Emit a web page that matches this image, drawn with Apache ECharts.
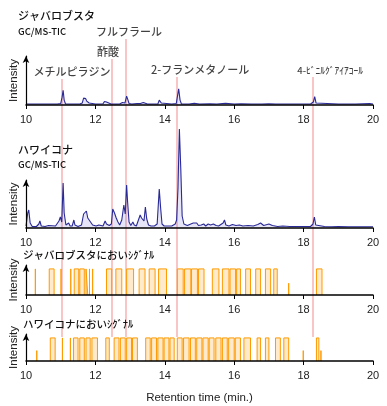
<!DOCTYPE html>
<html><head><meta charset="utf-8">
<script src="https://cdn.jsdelivr.net/npm/echarts@6/dist/echarts.min.js"></script>
<style>html,body{margin:0;padding:0;background:#fff}#c{width:387px;height:406px}</style>
</head><body><div id="c"></div>
<script>
// ---- data ----
const xTicks = [10, 12, 14, 16, 18, 20];
// GC/MS-TIC chromatogram, Java Lobusta: [retention time (min), intensity]
const javaTIC = [[10.0,1],[10.05,1.5],[10.1,1],[10.3,1],[10.35,1.8],[10.4,1],[10.6,1],[10.65,1.6],[10.7,1],[10.9,1],[11.0,1.5],[11.04,8],[11.07,15],[11.1,5],[11.14,1],[11.3,1],[11.35,1.5],[11.4,1],[11.55,1],[11.62,2],[11.66,7],[11.69,5],[11.72,6.5],[11.75,4],[11.78,5],[11.82,2],[11.86,1],[12.0,1],[12.05,1.5],[12.1,1],[12.22,1.2],[12.26,3.5],[12.29,2],[12.32,3],[12.35,1],[12.45,1],[12.5,2],[12.55,1],[12.7,1],[12.78,2.5],[12.82,4],[12.85,2],[12.9,9],[12.93,6],[12.97,1.5],[13.05,1],[13.2,1.5],[13.25,2],[13.3,1.5],[13.38,2.5],[13.42,1.5],[13.5,1],[13.6,1],[13.8,1],[13.84,5],[13.87,7],[13.9,2],[13.95,1],[14.2,1],[14.33,1.5],[14.37,10],[14.4,16.5],[14.44,5],[14.48,1],[14.7,1],[14.85,1.8],[14.9,1.2],[15.0,1],[15.3,1.2],[15.5,1],[15.75,1.8],[15.8,1],[16.0,1],[16.2,1.2],[16.5,1],[16.8,1],[17.0,1.3],[17.2,1],[17.5,1],[18.0,1],[18.2,1],[18.28,3],[18.32,8.5],[18.36,2],[18.4,1],[19.0,1],[19.5,1],[19.9,1.5],[20.0,1]];
// GC/MS-TIC chromatogram, Hawaii Kona
const konaTIC = [[10.0,2],[10.05,15],[10.08,18],[10.12,5],[10.18,1.5],[10.3,1.5],[10.37,4],[10.4,7],[10.44,2],[10.55,1.5],[10.65,2.5],[10.7,1.5],[10.85,2],[10.95,7],[10.99,11],[11.03,6],[11.07,45],[11.1,15],[11.15,3],[11.23,5],[11.27,2],[11.33,2],[11.38,8],[11.41,3],[11.5,1.5],[11.6,3],[11.66,14],[11.7,12],[11.74,17],[11.78,10],[11.82,12],[11.86,6],[11.92,3],[11.97,4],[12.02,2],[12.1,3],[12.15,1.5],[12.22,2],[12.28,7],[12.32,4],[12.36,6],[12.4,2.5],[12.46,4],[12.5,19],[12.55,15],[12.6,10],[12.65,6],[12.7,3],[12.76,8],[12.82,23],[12.86,14],[12.9,43],[12.93,25],[12.97,6],[13.02,2.5],[13.08,6],[13.12,3],[13.18,2],[13.25,9],[13.29,13],[13.33,10],[13.36,11],[13.4,7],[13.44,21],[13.48,9],[13.53,3],[13.6,2],[13.7,2],[13.78,4],[13.84,39],[13.88,20],[13.92,4],[13.98,2],[14.1,2],[14.2,2],[14.3,4],[14.34,8],[14.38,40],[14.42,99],[14.46,60],[14.5,12],[14.55,4],[14.65,2.5],[14.75,4],[14.82,5],[14.87,3],[14.92,5],[14.97,2.5],[15.05,3],[15.12,4],[15.18,2],[15.25,4],[15.32,3],[15.4,4],[15.48,2.5],[15.55,2],[15.68,5],[15.72,8],[15.76,3],[15.85,2],[15.95,3.5],[16.0,5],[16.05,2.5],[16.15,3],[16.25,2],[16.4,2.5],[16.55,2],[16.68,3.5],[16.76,5],[16.85,2.5],[17.0,4],[17.05,5],[17.1,2.5],[17.25,1.5],[17.4,2],[17.6,1.5],[17.8,1.5],[18.0,1.5],[18.2,1.5],[18.27,4],[18.31,11],[18.35,3],[18.4,1.5],[18.6,1.5],[18.8,1.2],[19.0,1.5],[19.3,1.2],[19.6,1.2],[20.0,1.2]];
// Odour signal intervals: [start, end, level]
const javaOdour = [[10.27,10.27,1],[10.67,10.81,1],[11.01,11.01,1],[11.29,11.29,1],[11.39,11.52,1],[11.55,11.68,1],[11.73,11.78,1],[11.83,11.83,1],[11.92,11.92,1],[12.32,12.47,1],[12.59,12.76,1],[12.9,13.1,1],[13.26,13.43,1],[13.55,13.72,1],[13.82,14.05,1],[14.36,14.53,1],[14.57,14.75,1],[14.77,14.94,1],[14.97,15.13,1],[15.37,15.56,1],[15.66,15.85,1],[15.88,16.04,1],[16.07,16.18,1],[16.33,16.47,1],[16.62,16.76,1],[16.9,17.05,1],[17.14,17.24,1],[17.57,17.57,0.45],[18.37,18.53,1]];
const konaOdour = [[10.31,10.31,0.45],[10.7,10.84,1],[11.05,11.05,1],[11.28,11.28,1],[11.37,11.5,1],[11.55,11.68,1],[11.73,11.85,1],[11.9,12.06,1],[12.3,12.4,1],[12.54,12.68,1],[12.72,12.86,1],[12.9,13.04,1],[13.07,13.21,1],[13.45,13.58,1],[13.62,13.76,1],[13.8,13.95,1],[13.98,14.12,1],[14.15,14.27,1],[14.36,14.5,1],[14.54,14.7,1],[14.74,14.88,1],[14.92,15.07,1],[15.1,15.25,1],[15.28,15.42,1],[15.47,15.62,1],[15.66,15.8,1],[15.84,16.0,1],[16.03,16.18,1],[16.28,16.47,1],[16.66,16.76,1],[16.9,17.0,1],[17.19,17.33,1],[17.43,17.57,1],[17.99,17.99,0.45],[18.37,18.44,1],[18.5,18.5,0.45]];
// Identified compounds and their retention times
const compounds = ['メチルピラジン', '酢酸', 'フルフラール', '2-フランメタノール', '4-ﾋﾞﾆﾙｸﾞｱｲｱｺｰﾙ'];
const compoundRT = [11.06, 12.5, 12.9, 14.37, 18.28];

// ---- layout / style (not data) ----
const labelPos = [{y:72,dx:10,fs:11},{y:52,dx:-4,fs:11},{y:32,dx:3,fs:11},{y:70,dx:23,fs:11},{y:70,dx:17,fs:9.5}];
const lineBottom = 337;
const JP = '"Noto Sans CJK JP", sans-serif';
const LAT = '"Liberation Sans", Arial, sans-serif';
const JPW = 500;

function steps(iv){
  const out=[];
  iv.forEach(([a,b,h])=>{ out.push([a,0],[a,h],[b,h],[b,0],[b,'-']); });
  return out;
}

const grids = [
  {left:25,right:14,top:56,height:49},
  {left:25,right:14,top:180,height:48},
  {left:25,right:14,top:265,height:30},
  {left:25,right:14,top:334,height:27},
  {left:25,right:14,top:0,height:406}
];
const yMax = [50, 48, 1.15, 1.17];

const xAxes = grids.map((g,i)=>({
  gridIndex:i, type:'value', min:xTicks[0], max:xTicks[xTicks.length-1], interval:xTicks[1]-xTicks[0],
  show: i<4, z:5,
  axisLine:{lineStyle:{color:'#000',width:1.5}},
  axisTick:{show:true,length:4,lineStyle:{color:'#000',width:1}},
  axisLabel:{color:'#222',fontSize:11,fontFamily:LAT,margin:9},
  splitLine:{show:false},
  name: i===3 ? 'Retention time (min.)' : '',
  nameLocation:'middle', nameGap:31,
  nameTextStyle:{color:'#222',fontSize:11.5,fontFamily:LAT}
}));
const yAxes = grids.map((g,i)=> i<4 ? ({
  gridIndex:i, type:'value', min:0, max:yMax[i], z:5,
  axisLine:{show:true,lineStyle:{color:'#000',width:1.2},symbol:['none','arrow'],symbolSize:[5,7]},
  axisTick:{show:false}, axisLabel:{show:false}, splitLine:{show:false},
  name:'Intensity', nameLocation:'middle', nameGap:6,
  nameTextStyle:{color:'#222',fontSize:11.5,fontFamily:LAT}
}) : ({gridIndex:4,type:'value',min:0,max:406,inverse:true,show:false}));

const ticColor = '#2a2a96';
const series = [
  {type:'lines', coordinateSystem:'cartesian2d', xAxisIndex:4, yAxisIndex:4, z:1, silent:true,
   lineStyle:{color:'#f6b3b3',width:1.5,opacity:1},
   data: compoundRT.map((rt,i)=>({coords:[[rt,labelPos[i].y+7],[rt,lineBottom]]}))},
  {type:'scatter', xAxisIndex:4, yAxisIndex:4, symbolSize:0, z:6, silent:true,
   data: compoundRT.map((rt,i)=>({name:compounds[i], value:[rt,labelPos[i].y],
     label:{show:true,position:'inside',offset:[labelPos[i].dx,0],formatter:'{b}',color:'#111',fontSize:labelPos[i].fs,fontFamily:JP,fontWeight:JPW}}))},
  {type:'line', xAxisIndex:0, yAxisIndex:0, data:javaTIC, symbol:'none', clip:false, z:3,
   lineStyle:{color:ticColor,width:1.1}, areaStyle:{color:'rgba(110,110,210,0.25)'}},
  {type:'line', xAxisIndex:1, yAxisIndex:1, data:konaTIC, symbol:'none', clip:false, z:3,
   lineStyle:{color:ticColor,width:1.1}, areaStyle:{color:'rgba(110,110,210,0.25)'}},
  {type:'line', xAxisIndex:2, yAxisIndex:2, data:steps(javaOdour), symbol:'none', connectNulls:false, z:3,
   lineStyle:{color:'#ff9a00',width:1}, areaStyle:{color:'rgba(255,190,90,0.45)'}},
  {type:'line', xAxisIndex:3, yAxisIndex:3, data:steps(konaOdour), symbol:'none', connectNulls:false, z:3,
   lineStyle:{color:'#ff9a00',width:1}, areaStyle:{color:'rgba(255,190,90,0.45)'}}
];

const titleStyle = (fs)=>({color:'#111',fontSize:fs,fontFamily:JP,fontWeight:JPW});
const titles = [
  {text:'ジャバロブスタ', left:18, top:10, textStyle:titleStyle(11)},
  {text:'GC/MS-TIC', left:18, top:27, textStyle:titleStyle(9.5)},
  {text:'ハワイコナ', left:18, top:144, textStyle:titleStyle(11)},
  {text:'GC/MS-TIC', left:18, top:160, textStyle:titleStyle(9.5)},
  {text:'ジャバロブスタにおいｼｸﾞﾅﾙ', left:23, top:250, textStyle:titleStyle(10.5)},
  {text:'ハワイコナにおいｼｸﾞﾅﾙ', left:23, top:319, textStyle:titleStyle(10.5)}
].map(t=>Object.assign({padding:0},t));

const chart = echarts.init(document.getElementById('c'), null, {renderer:'canvas'});
chart.setOption({
  animation:false, backgroundColor:'#fff',
  title:titles, grid:grids, xAxis:xAxes, yAxis:yAxes, series:series
});
</script></body></html>
